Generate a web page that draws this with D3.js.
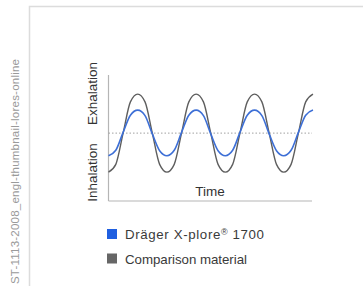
<!DOCTYPE html>
<html>
<head>
<meta charset="utf-8">
<script src="https://cdn.jsdelivr.net/npm/d3@7"></script>
<style>
  body { margin: 0; background: #fff; }
  text { font-family: "Liberation Sans", Arial, sans-serif; }
</style>
</head>
<body>
<script>
const width = 363;
const height = 286;

// time samples, 8 per breathing cycle
const timeSteps = d3.range(0, 29);
// signal (-1 = deepest inhalation, 1 = peak exhalation)
const comparisonValues = [-1, -0.8, 0, 0.8, 1, 0.8, 0, -0.8, -1, -0.8, 0, 0.8, 1, 0.8, 0, -0.8,
    -1, -0.8, 0, 0.8, 1, 0.8, 0, -0.8, -1, -0.8, 0, 0.8, 1];
const dragerValues = [-0.58, -0.44, 0.02, 0.46, 0.59, 0.45, -0.02, -0.45, -0.58, -0.44, 0.02, 0.46, 0.59, 0.45, -0.02, -0.45,
    -0.58, -0.44, 0.02, 0.46, 0.59, 0.45, -0.02, -0.45, -0.58, -0.44, 0.02, 0.46, 0.59];
const legendLabels = [["Dräger X-plore", "®", " 1700"], ["Comparison material", "", ""]];
const legendColors = ["#1f5fe0", "#666666"];
const legendWidths = [139, 122];

const svg = d3.select("body")
    .append("svg")
    .attr("width", width)
    .attr("height", height);

// frame lines
svg.append("path")
    .attr("d", "M29.5,286 V6.5 H363")
    .attr("fill", "none")
    .attr("stroke", "#dcdcdc")
    .attr("stroke-width", 1.5);

// watermark
svg.append("text")
    .attr("transform", "translate(19,284) rotate(-90)")
    .attr("text-anchor", "start")
    .attr("font-size", 11.5)
    .attr("textLength", 225)
    .attr("lengthAdjust", "spacing")
    .attr("fill", "#9a9a9a")
    .text("ST-1113-2008_engl-thumbnail-lores-online");

const xScale = d3.scaleLinear()
    .domain([0, 28])
    .range([108.5, 313]);

const yScale = d3.scaleLinear()
    .domain([-1.74, 1.49])
    .range([201, 75]);

const g = svg.append("g");

// axes
g.append("line")
    .attr("x1", xScale.range()[0]).attr("x2", xScale.range()[0])
    .attr("y1", yScale.range()[1]).attr("y2", yScale.range()[0])
    .attr("stroke", "#b5b5b5").attr("stroke-width", 1.2);
g.append("line")
    .attr("x1", xScale.range()[0]).attr("x2", 312)
    .attr("y1", yScale.range()[0]).attr("y2", yScale.range()[0])
    .attr("stroke", "#b5b5b5").attr("stroke-width", 1.2);

// zero line
g.append("line")
    .attr("x1", xScale.range()[0]).attr("x2", 312)
    .attr("y1", yScale(0)).attr("y2", yScale(0))
    .attr("stroke", "#a0a0a0")
    .attr("stroke-width", 1)
    .attr("stroke-dasharray", "1.5,2");

const line = d3.line()
    .x((d, i) => xScale(timeSteps[i]))
    .y(d => yScale(d))
    .curve(d3.curveMonotoneX);

g.append("path")
    .datum(comparisonValues)
    .attr("d", line)
    .attr("fill", "none")
    .attr("stroke", "#5e5e5e")
    .attr("stroke-width", 1.4);

g.append("path")
    .datum(dragerValues)
    .attr("d", line)
    .attr("fill", "none")
    .attr("stroke", "#3d6fd6")
    .attr("stroke-width", 1.6);

// axis labels
g.append("text")
    .attr("transform", `translate(97,${(62 + 125) / 2}) rotate(-90)`)
    .attr("text-anchor", "middle")
    .attr("font-size", 13.5)
    .attr("fill", "#333")
    .text("Exhalation");
g.append("text")
    .attr("transform", `translate(97,${(143 + 202) / 2}) rotate(-90)`)
    .attr("text-anchor", "middle")
    .attr("font-size", 13.5)
    .attr("fill", "#333")
    .text("Inhalation");
g.append("text")
    .attr("x", 210)
    .attr("y", 196)
    .attr("text-anchor", "middle")
    .attr("font-size", 13.5)
    .attr("fill", "#333")
    .text("Time");

// legend
const legend = svg.append("g")
    .selectAll("g")
    .data(legendLabels)
    .enter()
    .append("g")
    .attr("transform", (d, i) => `translate(107,${229 + i * 24.5})`);

legend.append("rect")
    .attr("width", 10)
    .attr("height", 10)
    .attr("fill", (d, i) => legendColors[i]);

const legendText = legend.append("text")
    .attr("x", 18)
    .attr("y", 10)
    .attr("font-size", 13.3)
    .attr("fill", "#3a3a3a")
    .attr("textLength", (d, i) => legendWidths[i])
    .attr("lengthAdjust", "spacing");

legendText.append("tspan").text(d => d[0]);
legendText.append("tspan")
    .attr("font-size", 9)
    .attr("dy", -4)
    .text(d => d[1]);
legendText.append("tspan")
    .attr("dy", d => d[1] ? 4 : 0)
    .text(d => d[2]);
</script>
</body>
</html>
